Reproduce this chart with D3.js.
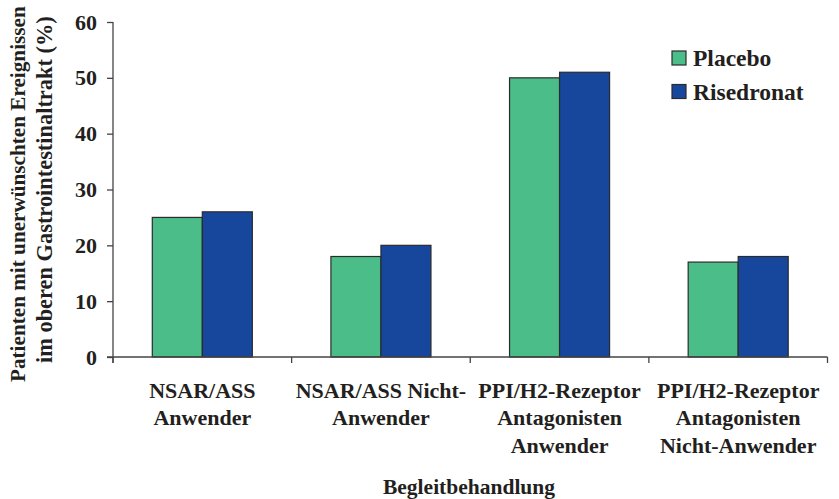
<!DOCTYPE html>
<html><head><meta charset="utf-8">
<script src="https://cdn.jsdelivr.net/npm/d3@7"></script>
<style>html,body{margin:0;padding:0;background:#fff;}svg{display:block;}</style>
</head><body>
<svg id="chart" width="839" height="499"></svg>
<script>
const categories = [
  ["NSAR/ASS", "Anwender"],
  ["NSAR/ASS Nicht-", "Anwender"],
  ["PPI/H2-Rezeptor", "Antagonisten", "Anwender"],
  ["PPI/H2-Rezeptor", "Antagonisten", "Nicht-Anwender"]
];
const seriesNames = ["Placebo", "Risedronat"];
const placeboValues = [25, 18, 50, 17];
const risedronatValues = [26, 20, 51, 18];
const yTicks = [0, 10, 20, 30, 40, 50, 60];
const yTitleLines = ["Patienten mit unerwünschten Ereignissen", "im oberen Gastrointestinaltrakt (%)"];
const xTitle = "Begleitbehandlung";
const colors = ["#4bbd88", "#17479d"];

(function () {
const svg = d3.select("#chart");
const FONT = "'Liberation Serif', 'Times New Roman', serif";
const mLeft = 113, mRight = 827.5, mTop = 22, mBottom = 357;

const x0 = d3.scaleBand().domain(d3.range(categories.length)).range([mLeft, mRight]).paddingInner(0).paddingOuter(0);
const x1 = d3.scaleBand().domain(seriesNames).range([0, x0.bandwidth()]).paddingOuter(0.7855).paddingInner(0);
const y = d3.scaleLinear().domain([0, 60]).range([mBottom, mTop]);

function txt(g, x, yy, s, size, anchor, rot) {
  return g.append("text")
    .attr("transform", `translate(${x},${yy})` + (rot ? ` rotate(${rot})` : ""))
    .attr("text-anchor", anchor)
    .attr("font-family", FONT).attr("font-weight", "bold")
    .attr("font-size", size).attr("fill", "#231f20").text(s);
}

// bars
const data = categories.map((c, i) => ({i, vals: [placeboValues[i], risedronatValues[i]]}));
const groups = svg.append("g").selectAll("g").data(data).join("g")
  .attr("transform", d => `translate(${x0(d.i)},0)`);
groups.selectAll("rect").data(d => d.vals.map((v, k) => ({k, v}))).join("rect")
  .attr("x", d => x1(seriesNames[d.k]))
  .attr("y", d => y(d.v))
  .attr("width", x1.bandwidth())
  .attr("height", d => y(0) - y(d.v))
  .attr("fill", d => colors[d.k])
  .attr("stroke", "#2b2b2b").attr("stroke-width", 1.2);

// y axis
const yAxis = svg.append("g").attr("transform", `translate(${mLeft},0)`)
  .call(d3.axisLeft(y).tickValues(yTicks).tickSize(6).tickPadding(0).tickFormat(""));
yAxis.select(".domain").attr("d", `M0,${mTop}V${mBottom + 6}`);
yAxis.selectAll("path,line").attr("stroke", "#444").attr("stroke-width", 1.3);
yTicks.forEach(t => txt(svg, 97, y(t) + 7.5, String(t), 22, "end"));

// x axis
const xAxis = svg.append("g").attr("transform", `translate(0,${mBottom})`)
  .call(d3.axisBottom(x0).tickSize(0).tickFormat(""));
xAxis.select(".domain").attr("d", `M${mLeft - 6},0H${mRight}`);
xAxis.selectAll("path").attr("stroke", "#444").attr("stroke-width", 1.3);
const bounds = d3.range(categories.length + 1).map(i => mLeft + i * x0.bandwidth());
xAxis.selectAll("line.sep").data(bounds).join("line").attr("class", "sep")
  .attr("x1", d => d).attr("x2", d => d).attr("y1", 0).attr("y2", 6)
  .attr("stroke", "#444").attr("stroke-width", 1.3);

// category labels
categories.forEach((lines, i) => {
  const cx = x0(i) + x0.bandwidth() / 2;
  lines.forEach((ln, j) => txt(svg, cx, 397.5 + j * 27.5, ln, 22, "middle"));
});

// x title
txt(svg, 469, 494, xTitle, 21.5, "middle");

// y title
txt(svg, 25, 382, yTitleLines[0], 21.2, "start", -90);
txt(svg, 52, 363, yTitleLines[1], 22.4, "start", -90);

// legend
const leg = svg.append("g");
seriesNames.forEach((s, k) => {
  const yy = 51 + k * 33.5;
  leg.append("rect").attr("x", 672).attr("y", yy).attr("width", 14).attr("height", 14)
    .attr("fill", colors[k]).attr("stroke", "#2b2b2b").attr("stroke-width", 1.2);
  txt(leg, 693, yy + 15, s, 23.5, "start");
});
})();
</script>
</body></html>
